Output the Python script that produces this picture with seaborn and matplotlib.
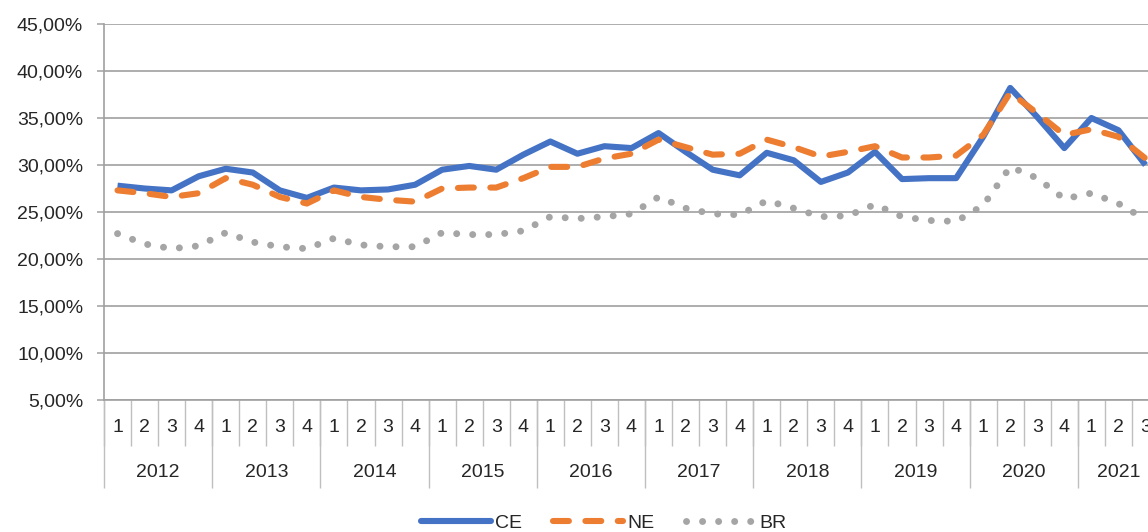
import numpy as np
import pandas as pd
import matplotlib
matplotlib.use('Agg')
import matplotlib.pyplot as plt
from matplotlib.ticker import FuncFormatter
from matplotlib.lines import Line2D
import seaborn as sns

years = [2012, 2013, 2014, 2015, 2016, 2017, 2018, 2019, 2020, 2021]
quarters_per_year = [4, 4, 4, 4, 4, 4, 4, 4, 4, 3]

ce = [27.8, 27.5, 27.3, 28.8, 29.6, 29.2, 27.3, 26.5, 27.6, 27.3, 27.4, 27.9,
      29.5, 29.9, 29.5, 31.1, 32.5, 31.2, 32.0, 31.8, 33.4, 31.4, 29.5, 28.9,
      31.3, 30.5, 28.2, 29.2, 31.4, 28.5, 28.6, 28.6, 33.0, 38.2, 35.1, 31.8,
      35.0, 33.7, 30.0]
ne = [27.3, 27.0, 26.6, 27.0, 28.6, 27.9, 26.6, 25.9, 27.3, 26.6, 26.3, 26.1,
      27.5, 27.6, 27.6, 28.6, 29.8, 29.8, 30.7, 31.2, 32.7, 31.9, 31.1, 31.2,
      32.7, 31.9, 30.9, 31.4, 32.0, 30.8, 30.8, 31.0, 33.2, 37.7, 35.5, 33.2,
      33.8, 33.0, 30.7]
br = [22.7, 21.6, 21.1, 21.4, 22.8, 21.8, 21.3, 21.1, 22.2, 21.5, 21.3, 21.3,
      22.8, 22.6, 22.6, 23.0, 24.5, 24.3, 24.5, 24.8, 26.6, 25.4, 24.8, 24.7,
      26.2, 25.4, 24.5, 24.6, 25.8, 24.5, 24.1, 24.0, 25.7, 29.8, 28.6, 26.4,
      27.0, 25.9, 24.2]

# quarter numbers + year of every point
quarter_labels = []
year_of_point = []
for y, n in zip(years, quarters_per_year):
    quarter_labels += [str(q) for q in range(1, n + 1)]
    year_of_point += [y] * n
idx = np.arange(len(quarter_labels))

df = pd.DataFrame({'idx': np.tile(idx, 3),
                   'val': ce + ne + br,
                   'serie': ['CE'] * len(ce) + ['NE'] * len(ne) + ['BR'] * len(br)})

sns.set_style('white')
plt.rcParams['font.family'] = ['Liberation Sans', 'DejaVu Sans']
fs = 14

fig = plt.figure(figsize=(11.48, 5.32), dpi=100)
ax = fig.add_axes([104 / 1148, 132 / 532, (1159 - 104) / 1148, 376 / 532])

palette = {'CE': '#4472C4', 'NE': '#ED7D31', 'BR': '#A5A5A5'}
dashes = {'CE': '', 'NE': (2.6, 2.7), 'BR': (0.01, 2.3)}
sns.lineplot(data=df, x='idx', y='val', hue='serie', style='serie',
             palette=palette, dashes=dashes, linewidth=4.4, ax=ax, legend=False)
for line in ax.get_lines():
    line.set_dash_capstyle('round')
    line.set_solid_capstyle('butt')
    line.set_solid_joinstyle('round')
    if line.get_color() == palette['BR']:
        line.set_linewidth(5.0)

ax.set_xlim(-0.5, len(idx) - 0.5)
ax.set_ylim(5, 45)
ax.set_yticks(np.arange(5, 46, 5))
ax.yaxis.set_major_formatter(FuncFormatter(lambda v, p: f'{v:.2f}%'.replace('.', ',')))
ax.yaxis.grid(True, color='#A0A0A0', linewidth=1.2)
ax.set_axisbelow(True)
ax.tick_params(axis='y', left=True, length=5, width=1.1, color='#A0A0A0',
               labelsize=fs, pad=10)

for s in ['top', 'right']:
    ax.spines[s].set_visible(False)
for s in ['left', 'bottom']:
    ax.spines[s].set_color('#A0A0A0')
    ax.spines[s].set_linewidth(1.2)

# quarter labels and separators
ax.set_xticks(idx, labels=quarter_labels)
ax.set_xticks(np.arange(-0.5, len(idx)), minor=True)
ax.tick_params(axis='x', which='major', length=0, labelsize=fs, pad=14)
ax.tick_params(axis='x', which='minor', bottom=True, length=33, width=1.0, color='#BFBFBF')
ax.set_xlabel('')
ax.set_ylabel('')

# year labels and separators
bounds = np.concatenate([[-0.5], np.cumsum(quarters_per_year) - 0.5])
year_centers = [np.mean([i for i, yy in zip(idx, year_of_point) if yy == y]) for y in years]
sec = ax.secondary_xaxis('bottom')
sec.spines['bottom'].set_visible(False)
sec.set_xticks(bounds)
sec.set_xticks(year_centers, labels=[str(y) for y in years], minor=True)
sec.tick_params(which='major', length=63, width=1.0, color='#BFBFBF', labelbottom=False)
sec.tick_params(which='minor', length=0, labelsize=fs, pad=46)

# legend
handles = [Line2D([], [], color=palette['CE'], linewidth=4.4, solid_capstyle='round'),
           Line2D([], [], color=palette['NE'], linewidth=4.4, dashes=dashes['NE'],
                  dash_capstyle='round'),
           Line2D([], [], color=palette['BR'], linewidth=5.0, dashes=dashes['BR'],
                  dash_capstyle='round')]
fig.legend(handles, ['CE', 'NE', 'BR'], loc='center', bbox_to_anchor=(604 / 1148, 9 / 532),
           ncol=3, frameon=False, fontsize=fs, handlelength=3.6, handletextpad=0.2,
           columnspacing=1.6)

fig.savefig('out.png', dpi=100)
